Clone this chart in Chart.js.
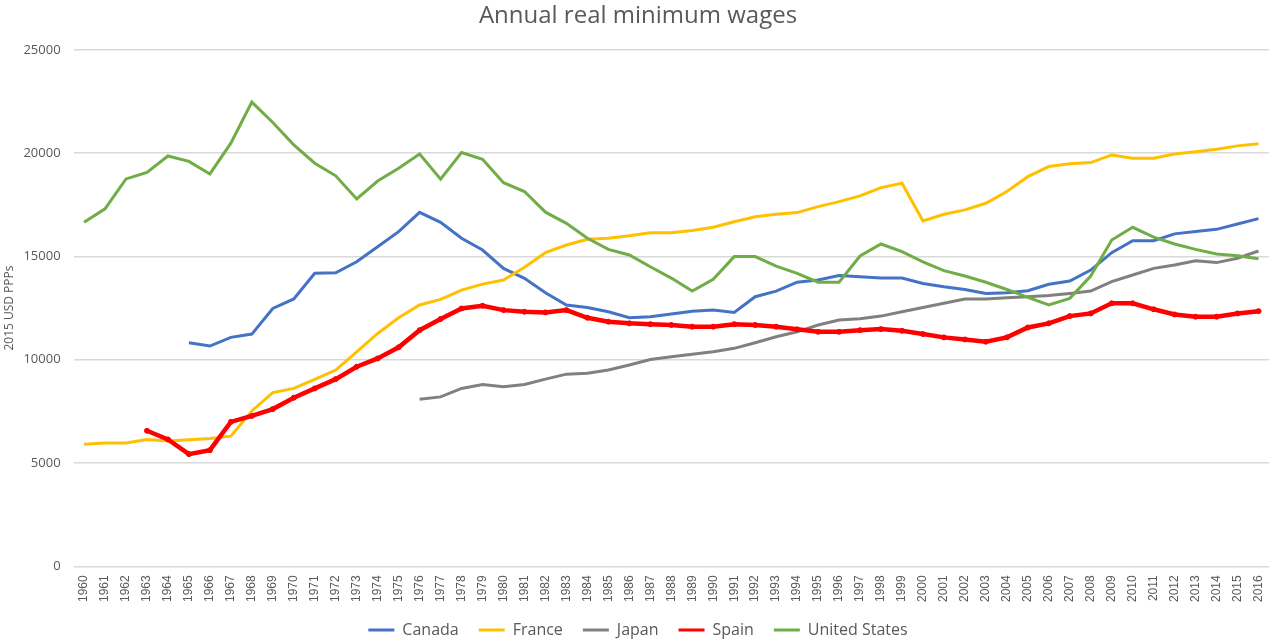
<!DOCTYPE html>
<html>
<head>
<meta charset="utf-8">
<title>Annual real minimum wages</title>
<script src="https://cdn.jsdelivr.net/npm/chart.js@4.4.1/dist/chart.umd.min.js"></script>
<style>
    html, body { margin: 0; padding: 0; background: #fff; overflow: hidden; }
    #wrap { width: 1274px; height: 640px; }
</style>
</head>
<body>
<div id="wrap"><canvas id="wagesChart"></canvas></div>
<script>
// years 1960..2016
const years = [];
for (let y = 1960; y <= 2016; y++) years.push(String(y));

const canada = [null, null, null, null, null,
    10820, 10660, 11080, 11240, 12480, 12940, 14180, 14210, 14740, 15470, 16200, 17130, 16650, 15880, 15310,
    14420, 13940, 13240, 12650, 12530, 12320, 12030, 12080, 12210, 12350, 12400, 12290, 13050, 13320, 13750,
    13860, 14070, 14020, 13950, 13950, 13690, 13530, 13400, 13210, 13240, 13340, 13650, 13810, 14340, 15180,
    15760, 15760, 16090, 16200, 16310, 16570, 16830];

const france = [5910, 5970, 5970, 6140, 6070, 6120, 6190, 6300, 7520, 8410,
    8610, 9050, 9500, 10380, 11270, 12030, 12650, 12920, 13370, 13660,
    13860, 14470, 15180, 15550, 15830, 15880, 16000, 16150, 16150, 16250,
    16410, 16680, 16920, 17040, 17120, 17410, 17650, 17930, 18330, 18540,
    16720, 17040, 17250, 17570, 18140, 18860, 19350, 19480, 19540, 19910,
    19750, 19750, 19960, 20070, 20190, 20350, 20450];

const japan = [null, null, null, null, null, null, null, null, null, null,
    null, null, null, null, null, null, 8090, 8200, 8610, 8800,
    8690, 8800, 9060, 9300, 9350, 9500, 9740, 10010, 10140, 10260,
    10380, 10550, 10820, 11110, 11350, 11680, 11920, 11980, 12110, 12320,
    12530, 12730, 12940, 12940, 13000, 13050, 13110, 13210, 13320, 13780,
    14100, 14420, 14580, 14790, 14700, 14910, 15260];

const spain = [null, null, null, 6560, 6140, 5430, 5620, 6990, 7280, 7610,
    8160, 8610, 9060, 9660, 10060, 10600, 11430, 11970, 12480, 12610,
    12400, 12320, 12290, 12400, 12030, 11840, 11760, 11720, 11680, 11600,
    11600, 11720, 11680, 11600, 11470, 11350, 11350, 11430, 11480, 11400,
    11240, 11080, 10980, 10870, 11080, 11560, 11760, 12110, 12240, 12730,
    12730, 12440, 12190, 12080, 12080, 12240, 12350];

const unitedStates = [16650, 17300, 18750, 19060, 19860, 19600, 18990, 20480, 22470, 21480,
    20400, 19510, 18900, 17780, 18650, 19270, 19960, 18740, 20030, 19700,
    18570, 18140, 17140, 16600, 15880, 15340, 15070, 14500, 13950, 13320,
    13890, 14990, 14990, 14530, 14180, 13750, 13750, 15020, 15600, 15230,
    14740, 14310, 14050, 13750, 13400, 13020, 12650, 12970, 14050, 15790,
    16410, 15930, 15600, 15340, 15120, 15030, 14890];

const yTicks = [0, 5000, 10000, 15000, 20000, 25000];

const textColor = '#595959';

function lineSet(label, data, color, width, order) {
    return {
        label: label,
        data: data,
        borderColor: color,
        backgroundColor: color,
        borderWidth: width,
        pointRadius: 0,
        tension: 0,
        order: order
    };
}

const spainSet = lineSet('Spain', spain, '#FF0000', 4.5, 1);
spainSet.pointRadius = 2.5;
spainSet.pointBorderWidth = 1;
spainSet.pointStyle = 'circle';

new Chart(document.querySelector('#wagesChart'), {
    type: 'line',
    data: {
        labels: years,
        datasets: [
            lineSet('Canada', canada, '#4472C4', 3, 4),
            lineSet('France', france, '#FFC000', 3, 3),
            lineSet('Japan', japan, '#808080', 3, 2),
            spainSet,
            lineSet('United States', unitedStates, '#70AD47', 3, 0)
        ]
    },
    options: {
        responsive: true,
        maintainAspectRatio: false,
        animation: false,
        layout: { padding: { left: 2, right: 0, top: 2, bottom: -8 } },
        plugins: {
            title: {
                display: true,
                text: 'Annual real minimum wages',
                color: textColor,
                font: { family: 'Open Sans', size: 24, weight: 'normal' },
                padding: { top: 0, bottom: 19 }
            },
            legend: {
                position: 'bottom',
                labels: {
                    color: textColor,
                    font: { family: 'Open Sans', size: 16 },
                    boxWidth: 26,
                    boxHeight: 3,
                    padding: 20,
                    generateLabels: (chart) => chart.data.datasets.map((ds, i) => ({
                        text: ds.label,
                        fillStyle: ds.borderColor,
                        strokeStyle: ds.borderColor,
                        lineWidth: 0,
                        fontColor: textColor,
                        datasetIndex: i
                    }))
                }
            },
            tooltip: { enabled: false }
        },
        scales: {
            x: {
                offset: true,
                grid: { display: false, drawTicks: true, tickLength: 9 },
                border: { display: false },
                afterFit: (scale) => {
                    scale.paddingRight = 0; // let the plot run to the right edge
                },
                ticks: {
                    color: textColor,
                    font: { family: 'Liberation Sans', size: 12 },
                    minRotation: 90,
                    maxRotation: 90,
                    autoSkip: false,
                    padding: 0
                }
            },
            y: {
                min: 0,
                max: 25000,
                afterBuildTicks: (axis) => {
                    axis.ticks = yTicks.map(v => ({ value: v }));
                },
                grid: { color: '#d9d9d9', lineWidth: 1.5, drawTicks: false },
                border: { display: false },
                title: {
                    display: true,
                    text: '2015 USD PPPs',
                    color: textColor,
                    font: { family: 'Open Sans', size: 12 },
                    padding: { top: 0, bottom: -6 }
                },
                ticks: {
                    color: textColor,
                    font: { family: 'Open Sans', size: 13 },
                    padding: 13,
                    callback: (value) => String(value)
                }
            }
        }
    }
});
</script>
</body>
</html>
